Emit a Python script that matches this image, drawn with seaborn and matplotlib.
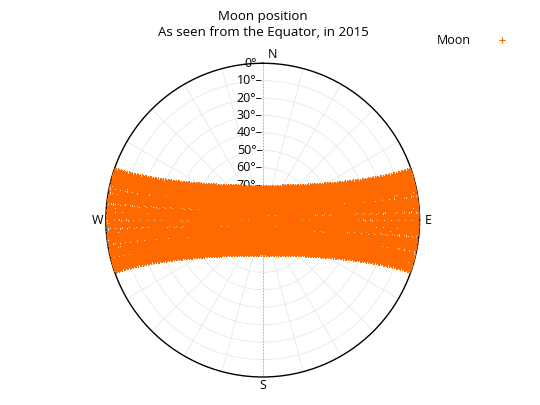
import numpy as np
import matplotlib
matplotlib.use('Agg')
import matplotlib.pyplot as plt
import seaborn as sns
import pandas as pd

# Moon declination samples over 2015 (deg) and hour angles (deg), observer on the Equator
declinations = [-18.6, -18.0, -17.3, -16.5, -15.6, -14.6, -13.5, -12.3, -11.0, -9.7, -8.3, -6.9, -5.4,
                -3.9, -2.4, -0.8, 0.8, 2.4, 3.9, 5.4, 6.9, 8.3, 9.7, 11.0, 12.3, 13.5, 14.6, 15.6,
                16.5, 17.3, 18.0, 18.6]
hour_angles = list(range(-90, 91, 1))
hour_offsets = [0.0, 0.5, 0.25, 0.75]
alt_ticks = [0, 10, 20, 30, 40, 50, 60, 70, 80, 90]

rows = []
for i, d in enumerate(declinations):
    for h in hour_angles:
        dr, hr = np.radians(d), np.radians(h + hour_offsets[i % 4])
        n = np.sin(dr)
        e = -np.cos(dr) * np.sin(hr)
        u = np.cos(dr) * np.cos(hr)
        if u < 0:
            continue
        rows.append({'az': np.arctan2(e, n), 'zen': 90 - np.degrees(np.arcsin(u))})
df = pd.DataFrame(rows)

sns.set_style('white')
plt.rcParams['font.family'] = ['Open Sans', 'DejaVu Sans']
plt.rcParams['text.color'] = 'black'
fig = plt.figure(figsize=(5.4, 4.05), dpi=100)
ax = fig.add_axes([0.196, 0.069, 0.581, 0.775], projection='polar')
ax.set_theta_zero_location('N')
ax.set_theta_direction(-1)
ax.set_ylim(0, 90)
ax.set_yticks(alt_ticks[:-1])
ax.set_yticklabels([])
ax.set_xticks(np.radians(np.arange(0, 360, 15)))
ax.set_xticklabels([])
ax.grid(color='#e8e8e8', lw=0.6, ls='-')
ax.spines['polar'].set_color('black')
ax.spines['polar'].set_linewidth(1.0)

ax.plot([0, 0], [90, 0], color='#aaaaaa', lw=0.8, ls=':', zorder=1)
ax.plot([np.pi, np.pi], [90, 0], color='#aaaaaa', lw=0.8, ls=':', zorder=1)
for a in alt_ticks[:-2]:
    ax.text(0, 90 - a, f'{a}°\u2013', ha='right', va='center', fontsize=9, zorder=1)

sns.scatterplot(data=df, x='az', y='zen', marker='+', color='#ff6a00', s=25, linewidth=0.8,
                ax=ax, label='Moon', zorder=3)
ax.set_xlabel('')
ax.set_ylabel('')

ax.text(0.03, 95, 'N', ha='left', va='center', fontsize=9)
ax.text(np.radians(90), 95, 'E', ha='center', va='center', fontsize=9)
ax.text(np.radians(180), 95, 'S', ha='center', va='center', fontsize=9)
ax.text(np.radians(270), 95, 'W', ha='center', va='center', fontsize=9)

ax.legend(loc='upper left', bbox_to_anchor=(1.02, 1.13), frameon=False, fontsize=9,
          markerfirst=False, handletextpad=1.5)
fig.text(0.487, 0.975, 'Moon position', ha='center', va='top', fontsize=9.5)
fig.text(0.487, 0.935, 'As seen from the Equator, in 2015', ha='center', va='top', fontsize=9.5)
fig.savefig('out.png', dpi=100)
